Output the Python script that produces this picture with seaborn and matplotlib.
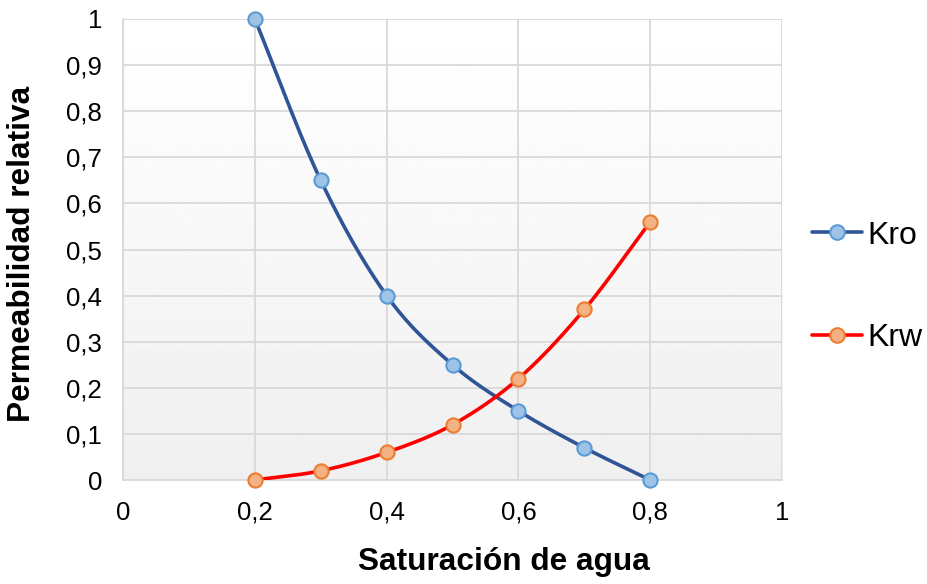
import numpy as np
import pandas as pd
import matplotlib.pyplot as plt
from matplotlib.lines import Line2D
import seaborn as sns

sw = [0.2, 0.3, 0.4, 0.5, 0.6, 0.7, 0.8]
kro = [1.0, 0.65, 0.40, 0.25, 0.15, 0.07, 0.0]
krw = [0.0, 0.02, 0.06, 0.12, 0.22, 0.37, 0.56]


def smooth(x, y, n=30):
    # Catmull-Rom style smoothing, like Excel's "smoothed line"
    x = np.asarray(x, float)
    y = np.asarray(y, float)
    px = np.concatenate([[2 * x[0] - x[1]], x, [2 * x[-1] - x[-2]]])
    py = np.concatenate([[2 * y[0] - y[1]], y, [2 * y[-1] - y[-2]]])
    xs, ys = [], []
    t = np.linspace(0, 1, n)
    for i in range(1, len(px) - 2):
        for p, out in ((px, xs), (py, ys)):
            p0, p1, p2, p3 = p[i - 1], p[i], p[i + 1], p[i + 2]
            out.extend(0.5 * (2 * p1 + (-p0 + p2) * t
                              + (2 * p0 - 5 * p1 + 4 * p2 - p3) * t ** 2
                              + (-p0 + 3 * p1 - 3 * p2 + p3) * t ** 3))
    return np.array(xs), np.array(ys)


sns.set_style("white")
plt.rcParams['font.family'] = ['Liberation Sans', 'DejaVu Sans']

fig = plt.figure(figsize=(9.27, 5.84), dpi=100)
ax = fig.add_axes([0.1327, 0.178, 0.711, 0.7895])

# gradient background
grad = np.linspace(1.0, 0.94, 256).reshape(-1, 1)
ax.imshow(grad, extent=[0, 1, 0, 1], aspect='auto', cmap='gray', vmin=0, vmax=1,
          origin='upper', zorder=0)

blue_line, blue_fill, blue_edge = '#2F5597', '#9DC3E6', '#5B9BD5'
red_line, red_fill, red_edge = '#FF0000', '#F4B183', '#ED7D31'

for y, lc, fc, ec in ((kro, blue_line, blue_fill, blue_edge),
                      (krw, red_line, red_fill, red_edge)):
    xs, ys = smooth(sw, y)
    sns.lineplot(x=xs, y=ys, ax=ax, color=lc, linewidth=2.6, sort=False,
                 estimator=None, zorder=3)
    sns.scatterplot(x=sw, y=y, ax=ax, s=105, color=fc, edgecolor=ec,
                    linewidth=1.5, zorder=4, clip_on=False)

ax.set_xlim(0, 1)
ax.set_ylim(0, 1)
ax.set_xticks(np.arange(0, 1.01, 0.2))
ax.set_yticks(np.arange(0, 1.01, 0.1))
ax.set_xticklabels([f"{v:g}".replace('.', ',') for v in np.round(np.arange(0, 1.01, 0.2), 1)])
ax.set_yticklabels([f"{v:g}".replace('.', ',') for v in np.round(np.arange(0, 1.01, 0.1), 1)])
ax.grid(True, color='#D9D9D9', linewidth=1.3, zorder=1)
ax.set_axisbelow(True)
for side in ('top', 'right'):
    ax.spines[side].set_visible(False)
for side in ('left', 'bottom'):
    ax.spines[side].set_color('#D9D9D9')
    ax.spines[side].set_linewidth(1.3)
ax.tick_params(axis='both', length=0, labelsize=18.5, labelcolor='black')
ax.tick_params(axis='x', pad=15)
ax.tick_params(axis='y', pad=15)

ax.set_xlabel('Saturación de agua', fontsize=22.8, fontweight='bold', color='black')
ax.set_ylabel('Permeabilidad relativa', fontsize=22.8, fontweight='bold', color='black')
ax.xaxis.set_label_coords(0.578, -0.145)
ax.yaxis.set_label_coords(-0.13, 0.49)

handles = [
    Line2D([], [], color=blue_line, lw=2.6, marker='o', markersize=10.5,
           markerfacecolor=blue_fill, markeredgecolor=blue_edge, markeredgewidth=1.5),
    Line2D([], [], color=red_line, lw=2.6, marker='o', markersize=10.5,
           markerfacecolor=red_fill, markeredgecolor=red_edge, markeredgewidth=1.5),
]
fig.legend(handles, ['Kro', 'Krw'], loc='center left', bbox_to_anchor=(0.876, 0.5085),
           frameon=False, fontsize=23, labelspacing=2.28, handlelength=1.55,
           handletextpad=0.18, borderpad=0, borderaxespad=0, labelcolor='black')

fig.savefig('out.png', dpi=100)
